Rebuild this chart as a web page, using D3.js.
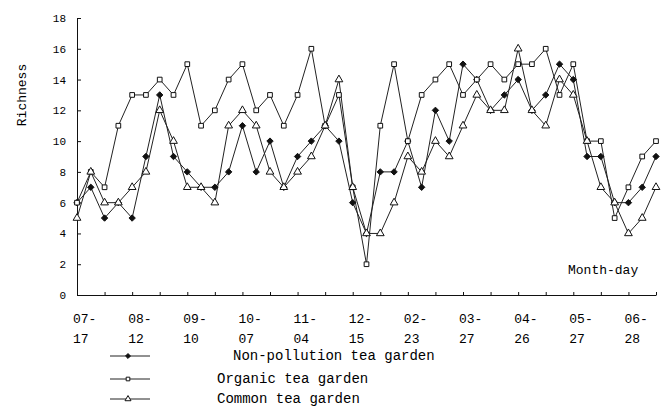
<!DOCTYPE html>
<html>
<head>
<meta charset="utf-8">
<script src="https://cdn.jsdelivr.net/npm/d3@7"></script>
<style>
  body { margin: 0; background: #fff; }
  text { font-family: "Liberation Mono", "DejaVu Sans Mono", monospace; fill: #000; }
</style>
</head>
<body>
<div id="svgTarget"></div>
<script>
// sampling index (two samples per axis tick)
const samples = d3.range(43);

const nonPollution = [6, 7, 5, 6, 5, 9, 13, 9, 8, 7, 7, 8, 11, 8, 10, 7, 9, 10, 11, 10, 6, 4, 8, 8, 10, 7, 12, 10, 15, 14, 12, 13, 14, 12, 13, 15, 14, 9, 9, 6, 6, 7, 9];
const organic      = [6, 8, 7, 11, 13, 13, 14, 13, 15, 11, 12, 14, 15, 12, 13, 11, 13, 16, 11, 13, 7, 2, 11, 15, 10, 13, 14, 15, 13, 14, 15, 14, 15, 15, 16, 13, 15, 10, 10, 5, 7, 9, 10];
const common       = [5, 8, 6, 6, 7, 8, 12, 10, 7, 7, 6, 11, 12, 11, 8, 7, 8, 9, 11, 14, 7, 4, 4, 6, 9, 8, 10, 9, 11, 13, 12, 12, 16, 12, 11, 14, 13, 10, 7, 6, 4, 5, 7];

// month-day labels, each placed at every fourth sample
const dateLabels = ["07-17", "08-12", "09-10", "10-07", "11-04", "12-15", "02-23", "03-27", "04-26", "05-27", "06-28"];
const yTicks = [0, 2, 4, 6, 8, 10, 12, 14, 16, 18];

const seriesNames = ["Non-pollution tea garden", "Organic tea garden", "Common tea garden"];

const width = 667, height = 407;
const margin = { top: 18, right: 11, bottom: 112, left: 77 };

const svg = d3.select("#svgTarget")
  .append("svg")
    .attr("width", width)
    .attr("height", height);

const x = d3.scaleLinear()
  .domain([0, samples.length - 1])
  .range([margin.left, width - margin.right]);

const y = d3.scaleLinear()
  .domain([0, 18])
  .range([height - margin.bottom, margin.top]);

// axes
const yAxis = d3.axisLeft(y)
  .tickValues(yTicks)
  .tickSizeInner(-4)
  .tickSizeOuter(0)
  .tickPadding(11);
svg.append("g")
  .attr("transform", `translate(${margin.left}, 0)`)
  .call(yAxis)
  .call(g => g.selectAll("text").attr("font-size", 11))
  .call(g => g.selectAll("path, line").attr("stroke", "#111"));

const xAxis = d3.axisBottom(x)
  .tickValues(samples.filter(d => d % 2 === 0))
  .tickSizeInner(-3)
  .tickSizeOuter(0)
  .tickFormat("");
svg.append("g")
  .attr("transform", `translate(0, ${y(0)})`)
  .call(xAxis)
  .call(g => g.selectAll("path, line").attr("stroke", "#111"));

// two-line date labels
const lab = svg.append("g").selectAll("text")
  .data(dateLabels)
  .enter()
  .append("text")
    .attr("font-size", 13)
    .attr("text-anchor", "start");
lab.append("tspan")
  .attr("x", (d, i) => x(i * 4) - 4)
  .attr("y", 323)
  .text(d => d.slice(0, 3));
lab.append("tspan")
  .attr("x", (d, i) => x(i * 4) - 4)
  .attr("y", 343)
  .text(d => d.slice(3));

// axis titles
svg.append("text")
  .attr("transform", "translate(26, 95) rotate(-90)")
  .attr("text-anchor", "middle")
  .attr("font-size", 13)
  .text("Richness");

svg.append("text")
  .attr("x", 568)
  .attr("y", 274)
  .attr("font-size", 13)
  .text("Month-day");

// series
const series = [
  { name: seriesNames[0], values: nonPollution, symbol: d3.symbolDiamond2, size: 26, fill: "#111" },
  { name: seriesNames[1], values: organic, symbol: d3.symbolSquare, size: 22, fill: "#fff" },
  { name: seriesNames[2], values: common, symbol: d3.symbolTriangle, size: 26, fill: "#fff" }
];

const line = d3.line()
  .x((d, i) => x(samples[i]))
  .y(d => y(d));

series.forEach(s => {
  svg.append("path")
    .datum(s.values)
    .attr("fill", "none")
    .attr("stroke", "#222")
    .attr("stroke-width", 1)
    .attr("d", line);
});

series.forEach(s => {
  svg.append("g").selectAll("path")
    .data(s.values)
    .enter()
    .append("path")
      .attr("transform", (d, i) => `translate(${x(samples[i])}, ${y(d)})`)
      .attr("d", d3.symbol().type(s.symbol).size(s.size))
      .attr("fill", s.fill)
      .attr("stroke", "#111")
      .attr("stroke-width", 1);
});

// legend
const legendRows = [356, 379, 399];
const legendText = [233, 217, 217];
series.forEach((s, i) => {
  const g = svg.append("g");
  g.append("line")
    .attr("x1", 110).attr("x2", 150)
    .attr("y1", legendRows[i]).attr("y2", legendRows[i])
    .attr("stroke", "#222");
  g.append("path")
    .attr("transform", `translate(128, ${legendRows[i]})`)
    .attr("d", d3.symbol().type(s.symbol).size(s.size * 0.6))
    .attr("fill", s.fill)
    .attr("stroke", "#111");
  g.append("text")
    .attr("x", legendText[i])
    .attr("y", legendRows[i] + 4)
    .attr("font-size", 14)
    .text(s.name);
});
</script>
</body>
</html>
